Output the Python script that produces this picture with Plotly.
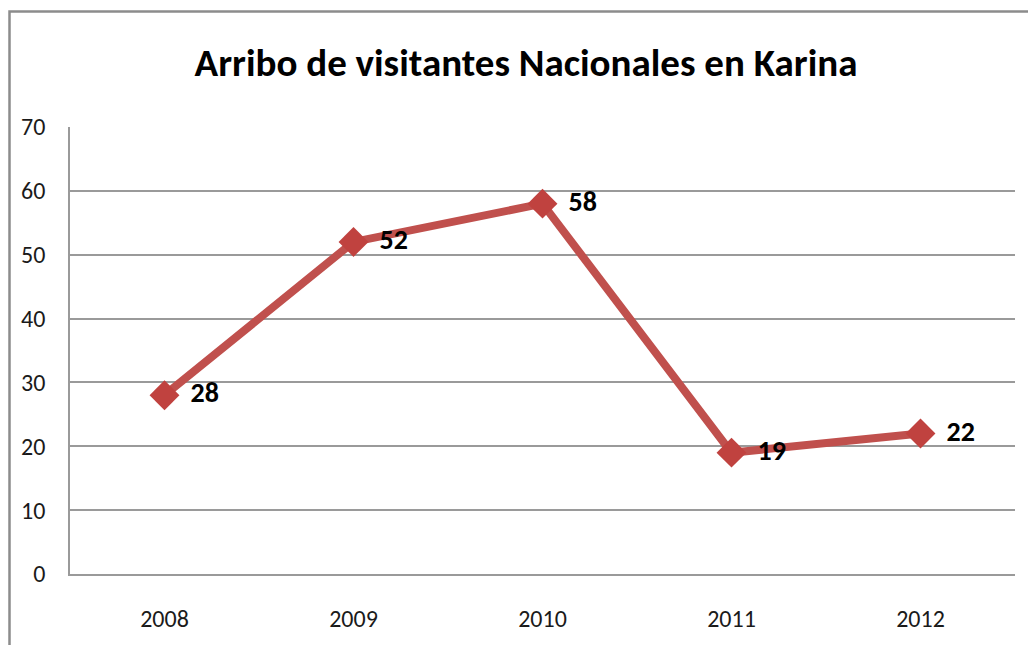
import plotly.graph_objects as go

# Datos del gráfico
anios = ["2008", "2009", "2010", "2011", "2012"]
visitantes = [28, 52, 58, 19, 22]
y_ticks = [0, 10, 20, 30, 40, 50, 60, 70]

titulo = "Arribo de visitantes Nacionales en Karina"
fuente = "Carlito, Lato, sans-serif"
rojo = "#c0504d"

# la página tiene 8px de margen en el body: la figura mide 1020x637
FW, FH = 1020, 637
ML, MR, MT, MB = 62, 13, 119, 63
W, H = FW - ML - MR, FH - MT - MB

fig = go.Figure()

fig.add_trace(go.Scatter(
    x=anios,
    y=visitantes,
    mode="lines+markers",
    line=dict(color=rojo, width=8),
    marker=dict(symbol="diamond", size=23, color="#c0423f"),
    hoverinfo="skip",
    showlegend=False,
    cliponaxis=False,
))

# etiquetas de datos a la derecha de cada punto
fig.add_trace(go.Scatter(
    x=anios,
    y=visitantes,
    mode="markers+text",
    marker=dict(size=40, opacity=0),
    text=[str(v) for v in visitantes],
    textposition="middle right",
    textfont=dict(size=28, color="#000000", family=fuente, weight="bold"),
    hoverinfo="skip",
    showlegend=False,
    cliponaxis=False,
))

# marco exterior del gráfico (solo se ven el borde superior e izquierdo)
fig.add_shape(
    type="rect", xref="paper", yref="paper",
    x0=(1.5 - ML) / W, x1=1.2, y0=-0.4, y1=1 + (MT - 1.5) / H,
    line=dict(color="#8c8c8c", width=2.5), fillcolor="rgba(0,0,0,0)",
)

fig.update_layout(
    width=FW, height=FH,
    paper_bgcolor="white", plot_bgcolor="white",
    margin=dict(l=ML, r=MR, t=MT, b=MB),
    title=dict(
        text="<b>" + titulo + "</b>",
        x=518 / FW, xref="container", xanchor="center",
        y=1 - 54 / FH, yref="container", yanchor="middle",
        font=dict(size=39, color="#000000", family=fuente),
    ),
    font=dict(family=fuente, color="#000000"),
)

fig.update_xaxes(
    type="category",
    range=[-0.5, len(anios) - 0.5],
    showgrid=False,
    showline=True, linecolor="#9a9a9a", linewidth=1.5,
    ticks="", ticklabelstandoff=22,
    tickfont=dict(size=24, color="#1a1a1a"),
)
fig.update_yaxes(
    range=[0, 70],
    tickvals=y_ticks,
    showgrid=True, gridcolor="#9a9a9a", gridwidth=1.5,
    zeroline=False,
    showline=True, linecolor="#9a9a9a", linewidth=1.5,
    ticks="", ticklabelstandoff=18,
    tickfont=dict(size=24, color="#1a1a1a"),
)

fig.write_html("out.html")
